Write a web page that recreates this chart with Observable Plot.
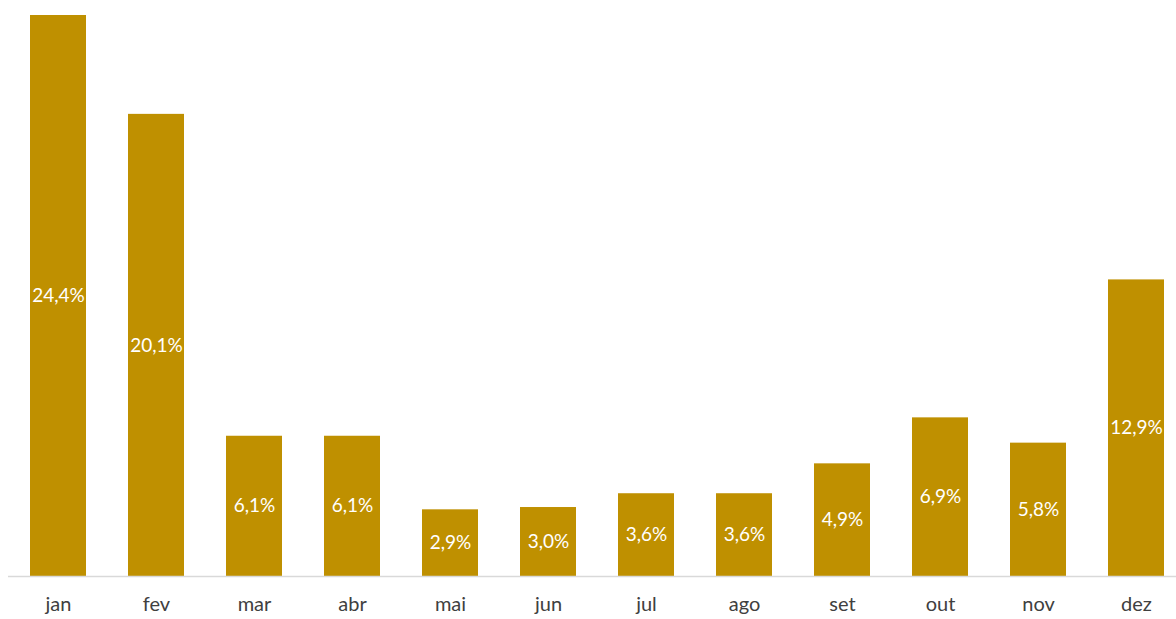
<!DOCTYPE html>
<html>
<head>
<meta charset="utf-8">
<script src="https://cdn.jsdelivr.net/npm/d3@7"></script>
<script src="https://cdn.jsdelivr.net/npm/@observablehq/plot@0.6"></script>
<style>
  html, body { margin: 0; padding: 0; background: #fff; }
  #chart { width: 1176px; height: 619px; }
</style>
</head>
<body>
<div id="chart"></div>
<script>
const months = ["jan", "fev", "mar", "abr", "mai", "jun", "jul", "ago", "set", "out", "nov", "dez"];
const shares = [24.4, 20.1, 6.1, 6.1, 2.9, 3.0, 3.6, 3.6, 4.9, 6.9, 5.8, 12.9];

const data = months.map((m, i) => ({month: m, value: shares[i]}));
const fmt = v => v.toFixed(1).replace(".", ",") + "%";

const chart = Plot.plot({
  width: 1176,
  height: 619,
  marginLeft: 8,
  marginRight: 0,
  marginTop: 15,
  marginBottom: 43,
  style: {fontFamily: "Lato, 'Noto Sans', sans-serif", fontSize: "19px", background: "#fff"},
  x: {domain: months, range: [9, 1185], paddingInner: 0.43, paddingOuter: 0.215, label: null},
  y: {domain: [0, 24.4], range: [576, 15], axis: null},
  marks: [
    Plot.barY(data, {x: "month", y: "value", fill: "#BF9000"}),
    Plot.ruleY([0], {stroke: "#d9d9d9", strokeWidth: 1.5}),
    Plot.text(data, {x: "month", y: d => d.value / 2, text: d => fmt(d.value), fill: "#ffffff", fontSize: 19}),
    Plot.axisX({tickSize: 0, tickPadding: 20, fontSize: 20, color: "#404040", label: null})
  ]
});
document.getElementById("chart").appendChild(chart);
</script>
</body>
</html>
